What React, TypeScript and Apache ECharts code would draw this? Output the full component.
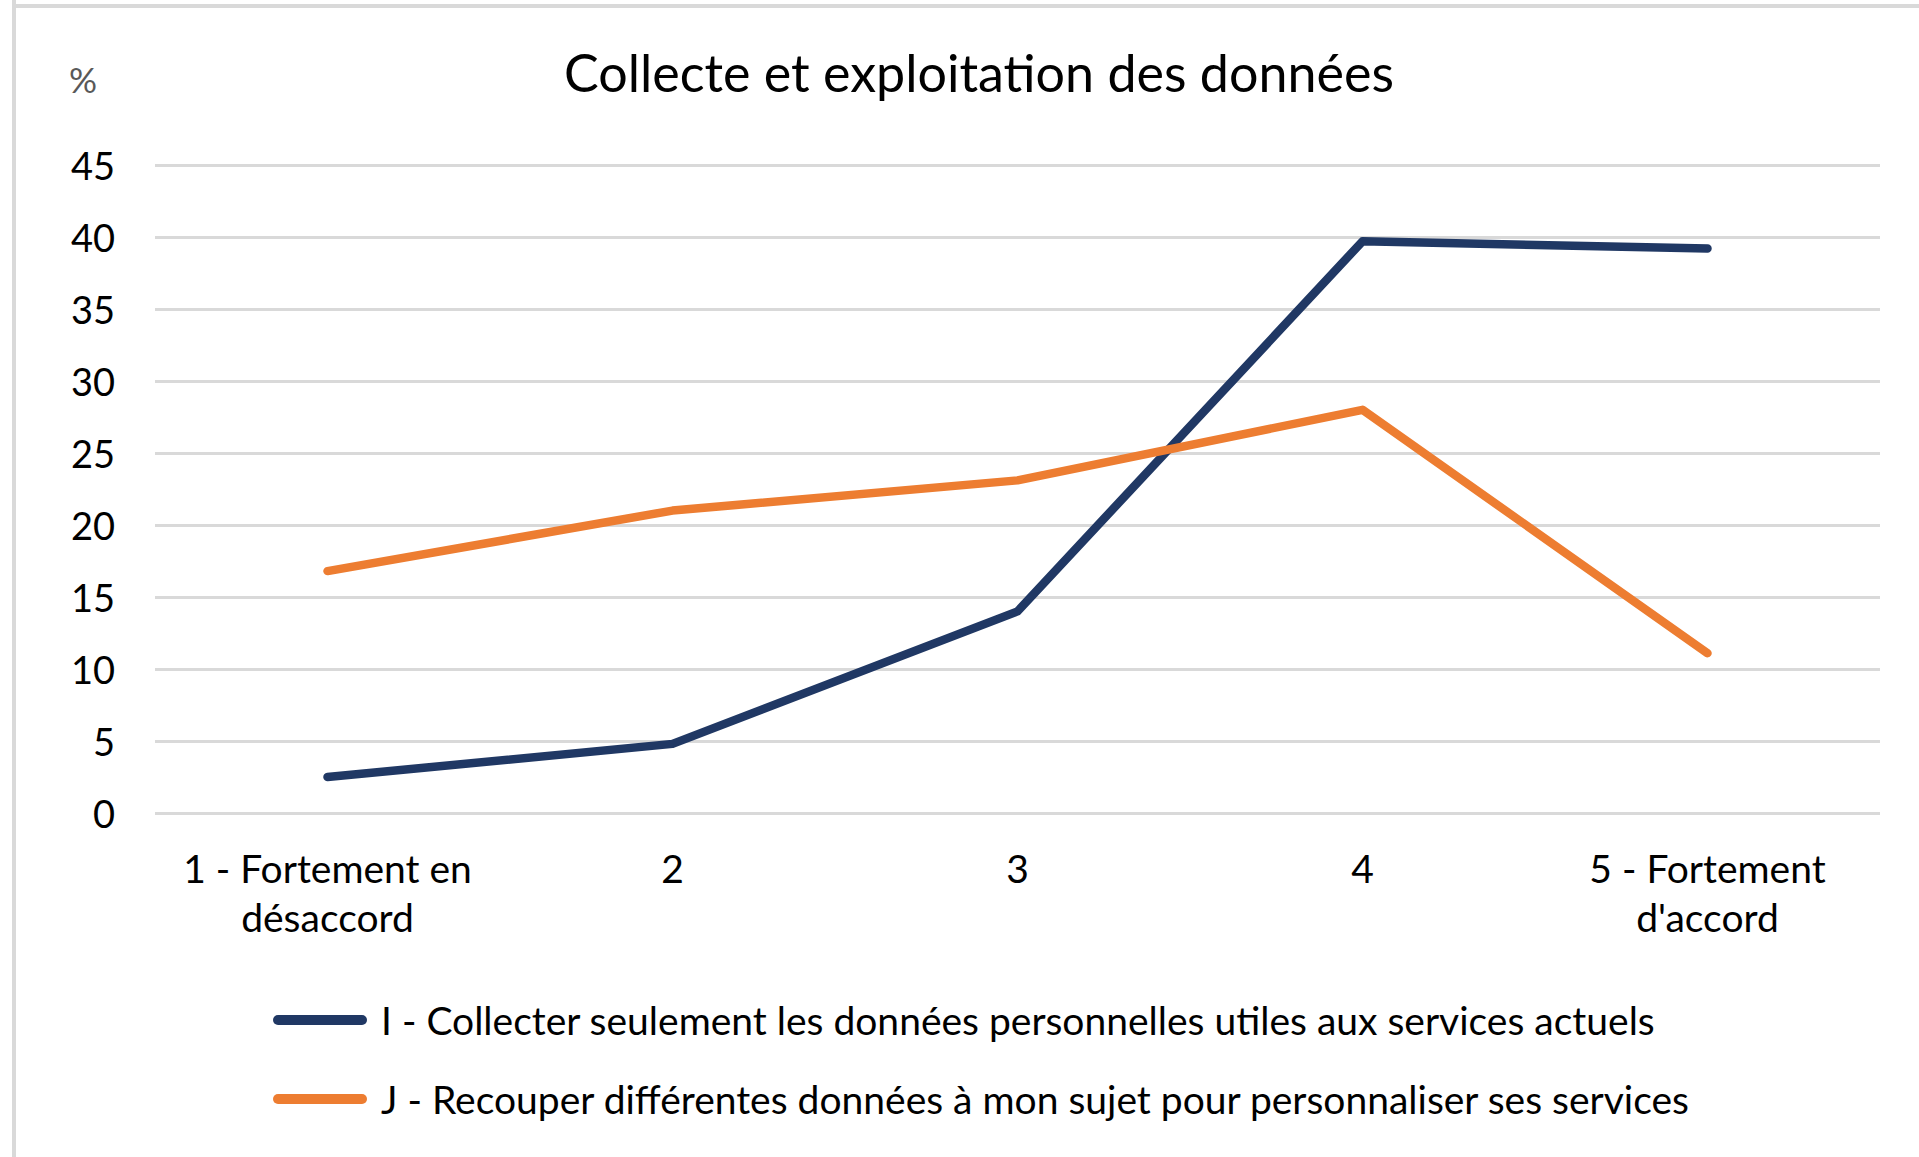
import React, { useEffect, useRef } from "react";
import * as echarts from "echarts";

const categories = ["1 - Fortement en\ndésaccord", "2", "3", "4", "5 - Fortement\nd'accord"];
const seriesINames = "I - Collecter seulement les données personnelles utiles aux services actuels";
const seriesJNames = "J - Recouper différentes données à mon sujet pour personnaliser ses services";
const seriesI = [2.5, 4.8, 14.0, 39.7, 39.2];
const seriesJ = [16.8, 21.0, 23.1, 28.0, 11.1];
const yTicks = { min: 0, max: 45, interval: 5 };
const titleText = "Collecte et exploitation des données";
const unitText = "%";

const FONT = "Lato, 'Noto Sans', sans-serif";

export default function App() {
  const ref = useRef<HTMLDivElement>(null);
  useEffect(() => {
    document.body.style.margin = "0";
    const chart = echarts.init(ref.current!, null, { renderer: "svg" });
    chart.setOption({
      animation: false,
      backgroundColor: "#ffffff",
      textStyle: { fontFamily: FONT },
      title: {
        text: titleText,
        left: 564,
        top: 46,
        padding: 0,
        textStyle: { fontFamily: FONT, fontSize: 52, fontWeight: "normal", color: "#000000" },
      },
      graphic: [
        { type: "line", shape: { x1: 14, y1: 0, x2: 14, y2: 1157 }, style: { stroke: "#d9d9d9", lineWidth: 4 } },
        { type: "line", shape: { x1: 12, y1: 6, x2: 1919, y2: 6 }, style: { stroke: "#d9d9d9", lineWidth: 4 } },
        {
          type: "text",
          x: 83,
          y: 79,
          style: { text: unitText, fontFamily: FONT, fontSize: 35, fill: "#595959", align: "center", verticalAlign: "middle" },
        },
      ],
      grid: { left: 155, right: 39, top: 165, bottom: 344, containLabel: false },
      xAxis: {
        type: "category",
        data: categories,
        boundaryGap: true,
        axisLine: { show: false },
        axisTick: { show: false },
        axisLabel: {
          interval: 0,
          margin: 30,
          verticalAlign: "top",
          fontFamily: FONT,
          fontSize: 39,
          lineHeight: 49,
          color: "#000000",
        },
      },
      yAxis: {
        type: "value",
        min: yTicks.min,
        max: yTicks.max,
        interval: yTicks.interval,
        axisLine: { show: false },
        axisTick: { show: false },
        axisLabel: { margin: 40, fontFamily: FONT, fontSize: 38, color: "#000000" },
        splitLine: { lineStyle: { color: "#d9d9d9", width: 3 } },
      },
      legend: {
        orient: "vertical",
        left: 273,
        top: 999,
        padding: 0,
        itemWidth: 94,
        itemHeight: 10,
        itemGap: 37,
        icon: "path://M5,0 L89,0 A5,5 0 0 1 89,10 L5,10 A5,5 0 0 1 5,0 Z",
        textStyle: { fontFamily: FONT, fontSize: 39, lineHeight: 42, color: "#000000", padding: [0, 0, 0, 9] },
        data: [seriesINames, seriesJNames],
      },
      series: [
        {
          name: seriesINames,
          type: "line",
          data: seriesI,
          symbol: "none",
          color: "#203864",
          lineStyle: { width: 8.5, color: "#203864", cap: "round", join: "round" },
        },
        {
          name: seriesJNames,
          type: "line",
          data: seriesJ,
          symbol: "none",
          color: "#ED7D31",
          lineStyle: { width: 8.5, color: "#ED7D31", cap: "round", join: "round" },
        },
      ],
    });
    return () => chart.dispose();
  }, []);
  return <div ref={ref} style={{ position: "absolute", left: 0, top: 0, width: 1919, height: 1157 }} />;
}
